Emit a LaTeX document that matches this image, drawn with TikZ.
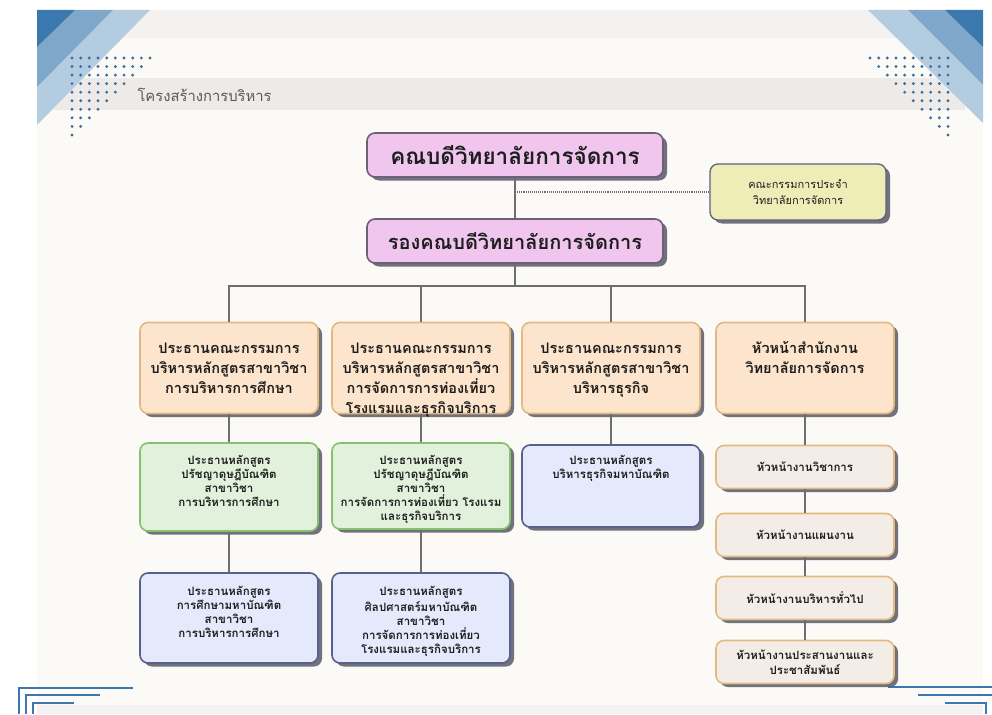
\documentclass[tikz,border=0pt]{standalone}
\usepackage{fontspec}
\newfontfamily\thaifont[Script=Thai]{Loma}
\usetikzlibrary{shadows}

\definecolor{panel}{HTML}{FBFAF7}
\definecolor{topband}{HTML}{F4F2F0}
\definecolor{band}{HTML}{EEEAE8}
\definecolor{blueA}{HTML}{3B78AE}
\definecolor{blueB}{HTML}{7FA7CA}
\definecolor{blueC}{HTML}{B4CCE0}
\definecolor{dotblue}{HTML}{3A6E9E}
\definecolor{pinkfill}{HTML}{F0C6EF}
\definecolor{pinkline}{HTML}{6E5E78}
\definecolor{yelfill}{HTML}{EFEDB7}
\definecolor{yelline}{HTML}{5E6078}
\definecolor{tanfill}{HTML}{FCE5CC}
\definecolor{tanline}{HTML}{E2BA80}
\definecolor{grnfill}{HTML}{E1F1DB}
\definecolor{grnline}{HTML}{86C26E}
\definecolor{blufill}{HTML}{E4EAFB}
\definecolor{bluline}{HTML}{56618E}
\definecolor{sandfill}{HTML}{F4EDE7}
\definecolor{shade}{HTML}{626270}
\definecolor{wire}{HTML}{6E6E6E}
\definecolor{ink}{HTML}{1E1E1E}

\newcommand{\toptext}[2]{\parbox[c][#1][t]{174pt}{\centering\strut #2}}

\begin{document}
\begin{tikzpicture}[x=1pt,y=-1pt,
  every node/.style={text=ink},
  wireline/.style={draw=wire,line width=1.1pt},
  deco/.style={draw=blueA,line width=1.1pt},
  box/.style={rounded corners=8pt,line width=1.6pt,inner sep=0pt,
    drop shadow={shadow xshift=4pt,shadow yshift=-3.5pt,fill=shade,opacity=0.9}},
  head/.style={box,fill=pinkfill,draw=pinkline,minimum width=296,minimum height=44},
  board/.style={box,fill=yelfill,draw=yelline,line width=1.3pt,minimum width=176,minimum height=56,
    align=center,font=\thaifont\fontsize{11}{16}\selectfont},
  chair/.style={box,fill=tanfill,draw=tanline,minimum width=178,minimum height=91,
    font=\thaifont\bfseries\fontsize{14.5}{20}\selectfont},
  phd/.style={box,fill=grnfill,draw=grnline,minimum width=178,
    font=\thaifont\bfseries\fontsize{11.5}{14}\selectfont},
  master/.style={box,fill=blufill,draw=bluline,minimum width=178,
    font=\thaifont\bfseries\fontsize{11.5}{14}\selectfont},
  unit/.style={box,fill=sandfill,draw=tanline,minimum width=178,minimum height=43,
    align=center,font=\thaifont\bfseries\fontsize{11.5}{15}\selectfont}]

\useasboundingbox (0,0) rectangle (992,714);
% background
\fill[white] (0,0) rectangle (992,714);
\fill[panel] (37,10) rectangle (983,705);
\fill[topband] (37,10) rectangle (983,38);
\fill[band] (37,78) rectangle (965,110);
\fill[topband] (37,705) rectangle (983,714);
\fill[blueC] (113,10) -- (150,10) -- (37,125) -- (37,87) -- cycle;
\fill[blueB] (75,10) -- (113,10) -- (37,87) -- (37,47) -- cycle;
\fill[blueA] (37,10) -- (75,10) -- (37,47) -- cycle;
\fill[blueC] (868,10) -- (908,10) -- (983,85) -- (983,123) -- cycle;
\fill[blueB] (908,10) -- (945,10) -- (983,47) -- (983,85) -- cycle;
\fill[blueA] (945,10) -- (983,10) -- (983,47) -- cycle;
\foreach \r in {0,...,9}{
  \pgfmathtruncatemacro\last{9-\r}
  \foreach \c in {0,...,\last}{
    \fill[dotblue] (72+8.67*\c,58+8.55*\r) circle (1.6);
    \fill[dotblue] (948-8.67*\c,58+8.55*\r) circle (1.6);
  }
}
\draw[deco] (133,688) -- (19,688) -- (19,714);
\draw[deco] (100,695) -- (26,695) -- (26,714);
\draw[deco] (74,703) -- (33,703) -- (33,714);
\draw[deco] (888,687) -- (992,687);
\draw[deco] (918,695) -- (992,695);
\draw[deco] (945,703) -- (986,703) -- (986,714);

\node[anchor=west,text=black!65,font=\thaifont\fontsize{14.8}{16}\selectfont] (title) at (134,95) {โครงสร้างการบริหาร};

% top
\node[head,font=\thaifont\bfseries\fontsize{22.5}{26}\selectfont] (dean) at (515,155) {คณบดีวิทยาลัยการจัดการ};
\node[head,font=\thaifont\bfseries\fontsize{20}{24}\selectfont] (vice) at (515,241) {รองคณบดีวิทยาลัยการจัดการ};
\node[board] (board) at (798,192) {คณะกรรมการประจำ\\วิทยาลัยการจัดการ};

% chairs
\node[chair] (c1) at (229,368) {\toptext{57pt}{ประธานคณะกรรมการ\\บริหารหลักสูตรสาขาวิชา\\การบริหารการศึกษา}};
\node[chair] (c2) at (421,368) {\toptext{57pt}{ประธานคณะกรรมการ\\บริหารหลักสูตรสาขาวิชา\\การจัดการการท่องเที่ยว\\โรงแรมและธุรกิจบริการ}};
\node[chair] (c3) at (611,368) {\toptext{57pt}{ประธานคณะกรรมการ\\บริหารหลักสูตรสาขาวิชา\\บริหารธุรกิจ}};
\node[chair] (c4) at (805,368) {\toptext{57pt}{หัวหน้าสำนักงาน\\วิทยาลัยการจัดการ}};

% programmes
\node[phd,minimum height=88] (g1) at (229,487) {\toptext{64pt}{ประธานหลักสูตร\\ปรัชญาดุษฎีบัณฑิต\\สาขาวิชา\\การบริหารการศึกษา}};
\node[phd,minimum height=86] (g2) at (421,486) {\toptext{62pt}{ประธานหลักสูตร\\ปรัชญาดุษฎีบัณฑิต\\สาขาวิชา\\การจัดการการท่องเที่ยว โรงแรม\\และธุรกิจบริการ}};
\node[master,minimum height=82] (m3) at (611,486) {\toptext{62pt}{ประธานหลักสูตร\\บริหารธุรกิจมหาบัณฑิต}};
\node[master,minimum height=90] (m1) at (229,618) {\toptext{64pt}{ประธานหลักสูตร\\การศึกษามหาบัณฑิต\\สาขาวิชา\\การบริหารการศึกษา}};
\node[master,minimum height=90] (m2) at (421,618) {\toptext{64pt}{ประธานหลักสูตร\\ศิลปศาสตร์มหาบัณฑิต\\สาขาวิชา\\การจัดการการท่องเที่ยว\\โรงแรมและธุรกิจบริการ}};

% office units
\node[unit] (u1) at (805,467) {หัวหน้างานวิชาการ};
\node[unit] (u2) at (805,535) {หัวหน้างานแผนงาน};
\node[unit] (u3) at (805,598) {หัวหน้างานบริหารทั่วไป};
\node[unit] (u4) at (805,662) {หัวหน้างานประสานงานและ\\ประชาสัมพันธ์};

% lines
\coordinate (bus) at (515,286);
\draw[wireline] (dean) -- (vice);
\draw[wireline,densely dotted] (dean.south |- board.west) -- (board);
\draw[wireline] (vice) -- (bus);
\draw[wireline] (c1.north) |- (bus) -| (c4.north);
\draw[wireline] (c2.north) -- (c2.north |- bus);
\draw[wireline] (c3.north) -- (c3.north |- bus);
\draw[wireline] (c1) -- (g1) (g1) -- (m1);
\draw[wireline] (c2) -- (g2) (g2) -- (m2);
\draw[wireline] (c3) -- (m3);
\draw[wireline] (c4) -- (u1) (u1) -- (u2) (u2) -- (u3) (u3) -- (u4);
\end{tikzpicture}
\end{document}
